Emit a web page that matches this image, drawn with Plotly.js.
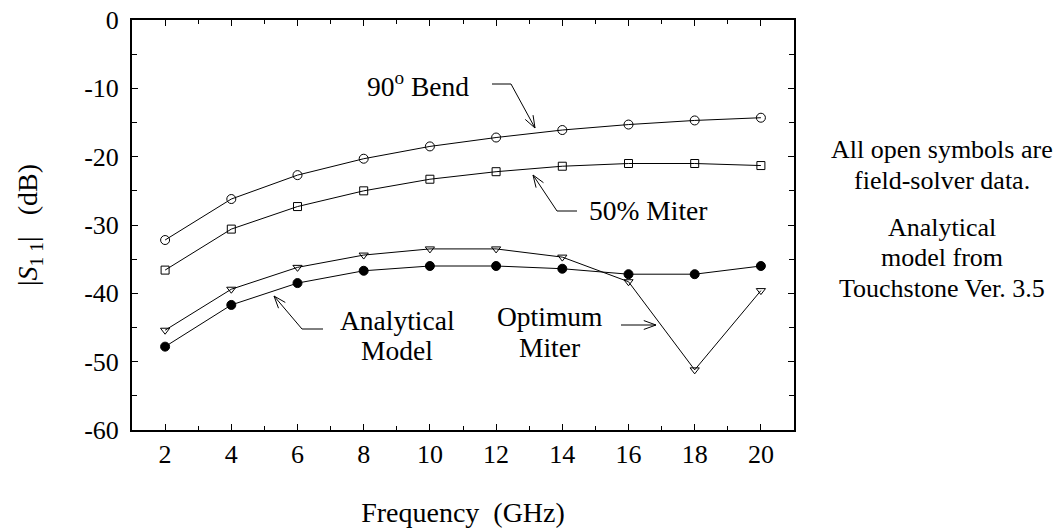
<!DOCTYPE html>
<html>
<head>
<meta charset="utf-8">
<script src="https://cdn.plot.ly/plotly-3.0.1.min.js"></script>
<style>
  html, body { margin: 0; padding: 0; background: #fff; }
  #chart { width: 1064px; height: 531px; }
</style>
</head>
<body>
<div id="chart"></div>
<script>
// ---- data ----
const freq = [2, 4, 6, 8, 10, 12, 14, 16, 18, 20];
const bend90 = [-32.2, -26.2, -22.7, -20.3, -18.5, -17.2, -16.1, -15.3, -14.7, -14.3];
const miter50 = [-36.6, -30.6, -27.3, -25.0, -23.3, -22.2, -21.4, -21.0, -21.0, -21.3];
const optimumMiter = [-45.4, -39.4, -36.2, -34.4, -33.5, -33.5, -34.7, -38.3, -51.2, -39.6];
const analyticalModel = [-47.8, -41.7, -38.5, -36.7, -36.0, -36.0, -36.4, -37.2, -37.2, -36.0];
const seriesNames = ['90° Bend', '50% Miter', 'Optimum Miter', 'Analytical Model'];
const xTickVals = [2, 4, 6, 8, 10, 12, 14, 16, 18, 20];
const xTickText = ['2', '4', '6', '8', '10', '12', '14', '16', '18', '20'];
const yTickVals = [0, -10, -20, -30, -40, -50, -60];
const yTickText = ['0', '-10', '-20', '-30', '-40', '-50', '-60'];

// ---- layout geometry ----
const W = 1064, H = 531;
const M = { l: 132, r: 270, t: 20, b: 101 };
const PW = W - M.l - M.r, PH = H - M.t - M.b;
function px(x) { return (x - M.l) / PW; }
function py(y) { return (M.t + PH - y) / PH; }

const FONT = 'Liberation Serif, Times New Roman, serif';
const black = '#000';

function trace(y, symbol, size, name) {
  return {
    x: freq, y: y, name: name, type: 'scatter', mode: 'lines+markers',
    line: { color: black, width: 1 },
    marker: { symbol: symbol, size: size, color: black, line: { color: black, width: 1 } },
    cliponaxis: false
  };
}

const data = [
  trace(bend90, 'circle-open', 9, seriesNames[0]),
  trace(miter50, 'square-open', 8, seriesNames[1]),
  trace(analyticalModel, 'circle', 9, seriesNames[3]),
  trace(optimumMiter, 'triangle-down-open', 8, seriesNames[2])
];

// ---- annotation arrows (pixel geometry -> paper) ----
const shapes = [];
function seg(x0, y0, x1, y1) {
  shapes.push({ type: 'line', xref: 'paper', yref: 'paper',
    x0: px(x0), y0: py(y0), x1: px(x1), y1: py(y1),
    line: { color: black, width: 1 } });
}
function arrow(points) {
  for (let i = 0; i < points.length - 1; i++) seg(points[i][0], points[i][1], points[i+1][0], points[i+1][1]);
  const [tx, ty] = points[points.length - 2];
  const [hx, hy] = points[points.length - 1];
  const len = Math.hypot(hx - tx, hy - ty);
  const dx = (hx - tx) / len, dy = (hy - ty) / len;
  const L = 13, a = 20 * Math.PI / 180;
  for (const s of [a, -a]) {
    const rx = dx * Math.cos(s) - dy * Math.sin(s);
    const ry = dx * Math.sin(s) + dy * Math.cos(s);
    seg(hx, hy, hx - L * rx, hy - L * ry);
  }
}
arrow([[492, 84], [511, 84], [535, 128]]);
arrow([[577, 211], [557, 211], [533, 175]]);
arrow([[323, 329], [302, 329], [274, 296]]);
arrow([[621, 325], [656, 325]]);

function note(text, x, y, size) {
  return { text: text, xref: 'paper', yref: 'paper', x: px(x), y: py(y),
    xanchor: 'center', yanchor: 'middle', showarrow: false, align: 'center',
    font: { family: FONT, size: size || 27.5, color: black } };
}
const annotations = [
  note('90<sup>o</sup> Bend', 418, 84),
  note('50% Miter', 648, 210),
  note('Analytical', 397, 320),
  note('Model', 397, 350),
  note('Optimum', 549, 316),
  note('Miter', 549, 347),
  note('All open symbols are', 942, 150, 26),
  note('field-solver data.', 942, 180, 26),
  note('Analytical', 942, 227, 26),
  note('model from', 942, 257, 26),
  note('Touchstone Ver. 3.5', 942, 288, 26)
];

const axisCommon = {
  showline: true, linecolor: black, linewidth: 2, mirror: 'allticks',
  ticks: 'inside', ticklen: 6, tickwidth: 1, tickcolor: black,
  showgrid: false, zeroline: false, tickmode: 'array',
  tickfont: { family: FONT, size: 26, color: black }
};

const layout = {
  width: W, height: H,
  margin: M,
  paper_bgcolor: '#fff', plot_bgcolor: '#fff',
  showlegend: false,
  xaxis: Object.assign({}, axisCommon, {
    range: [1, 21], tickvals: xTickVals, ticktext: xTickText,
    minor: { tickmode: 'linear', tick0: 1, dtick: 1, ticks: 'inside', ticklen: 4, tickcolor: black, showgrid: false },
    title: { text: 'Frequency  (GHz)', standoff: 34, font: { family: FONT, size: 28, color: black } }
  }),
  yaxis: Object.assign({}, axisCommon, {
    range: [-60, 0], tickvals: yTickVals, ticktext: yTickText, ticklabelstandoff: 6,
    minor: { tickmode: 'linear', tick0: 0, dtick: 5, ticks: 'inside', ticklen: 5, tickcolor: black, showgrid: false },
    title: { text: '|<i>S</i><sub>1 1</sub>|&nbsp;&nbsp;&nbsp;(dB)', standoff: 38, font: { family: FONT, size: 28, color: black } }
  }),
  shapes: shapes,
  annotations: annotations
};

Plotly.newPlot('chart', data, layout, { staticPlot: true, displayModeBar: false });
</script>
</body>
</html>
